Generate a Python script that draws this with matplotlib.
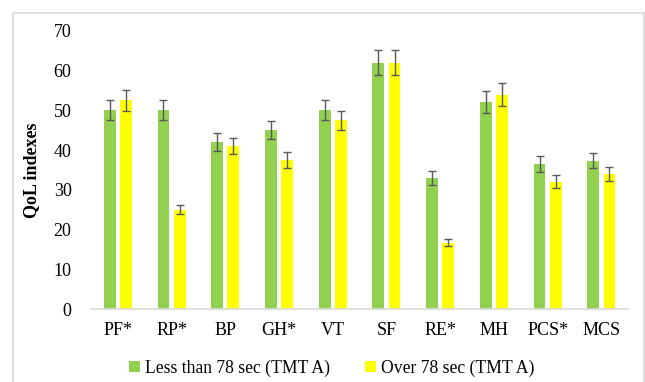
import numpy as np
import matplotlib.pyplot as plt
from matplotlib.patches import Rectangle

categories = ["PF*", "RP*", "BP", "GH*", "VT", "SF", "RE*", "MH", "PCS*", "MCS"]
less_78 = [50.0, 50.0, 42.0, 45.0, 50.0, 62.0, 33.0, 52.2, 36.5, 37.3]
less_78_err = [2.5, 2.5, 2.2, 2.3, 2.5, 3.1, 1.8, 2.8, 2.0, 1.9]
over_78 = [52.5, 25.0, 41.0, 37.5, 47.5, 62.0, 16.7, 54.0, 32.1, 34.0]
over_78_err = [2.7, 1.2, 2.1, 2.0, 2.4, 3.1, 0.9, 2.8, 1.7, 1.7]
series_names = ["Less than 78 sec (TMT A)", "Over 78 sec (TMT A)"]

plt.rcParams['font.family'] = ['Liberation Serif', 'DejaVu Serif']

fig = plt.figure(figsize=(6.45, 3.82), dpi=100)
ax = fig.add_axes([0.141, 0.191, 0.833, 0.728])

# light frame around the chart area
fig.patches.append(Rectangle((0.02, -0.01), 0.978, 0.976, transform=fig.transFigure,
                             fill=False, edgecolor='#d9d9d9', linewidth=1.2))

x = np.arange(len(categories))
w = 0.22
off = 0.15
err_kw = dict(ecolor='#595959', elinewidth=1.0, capsize=3, capthick=1.0)
ax.bar(x - off, less_78, w, yerr=less_78_err, color='#92d050', label=series_names[0],
       error_kw=err_kw)
ax.bar(x + off, over_78, w, yerr=over_78_err, color='#ffff00', label=series_names[1],
       error_kw=err_kw)

fs = 13
ax.set_xlim(-0.5, len(categories) - 0.5)
ax.set_ylim(0, 70)
ax.set_yticks(range(0, 71, 10))
ax.set_xticks(x)
ax.set_xticklabels(categories)
ax.tick_params(axis='both', length=0, labelsize=fs, colors='#000000')
ax.tick_params(axis='y', pad=14)
ax.tick_params(axis='x', pad=9)
for s in ['top', 'right', 'left']:
    ax.spines[s].set_visible(False)
ax.spines['bottom'].set_color('#d9d9d9')
ax.spines['bottom'].set_linewidth(1.2)

ax.set_ylabel('QoL indexes', fontsize=fs, fontweight='bold', labelpad=10)

ax.legend(loc='upper center', bbox_to_anchor=(0.448, -0.125), ncol=2, frameon=False,
          fontsize=12.7, handlelength=0.6, handleheight=0.6, handletextpad=0.3,
          columnspacing=2.0)

plt.savefig('out.png', dpi=100)
